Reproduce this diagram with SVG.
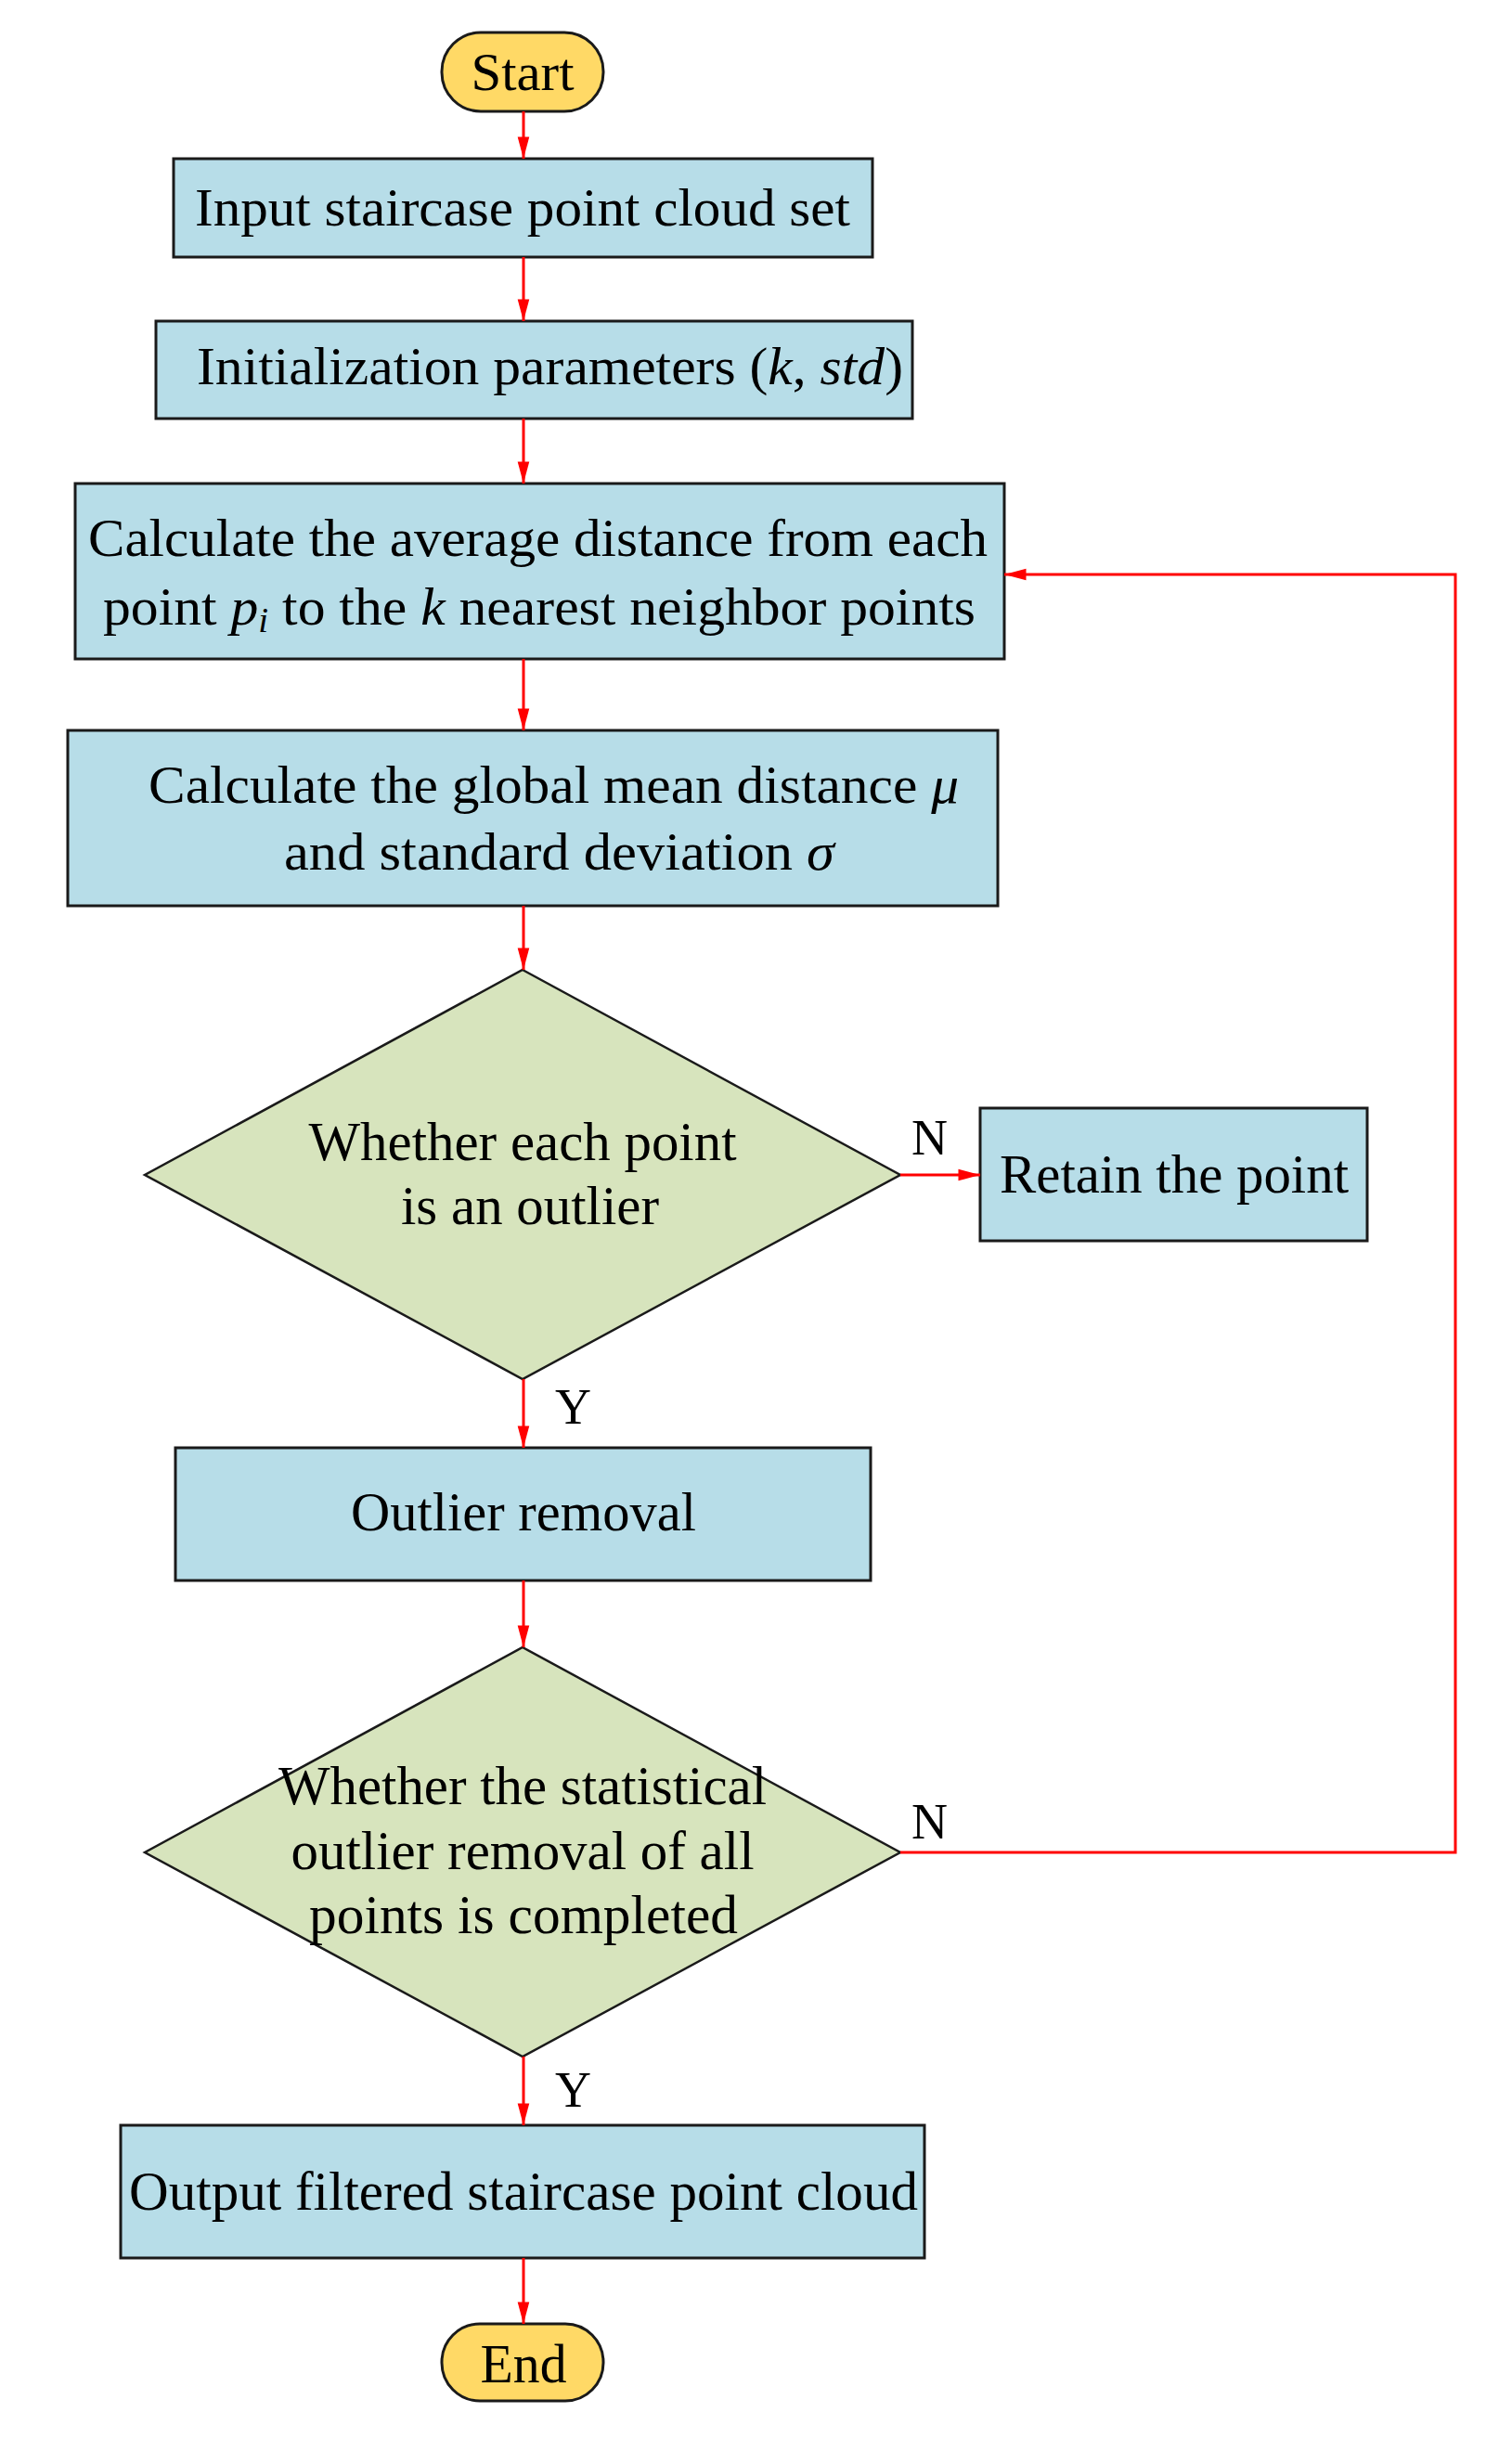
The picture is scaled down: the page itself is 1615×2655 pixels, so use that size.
<svg xmlns="http://www.w3.org/2000/svg" width="1615" height="2655" viewBox="0 0 1615 2655">
<style>
.box{fill:#b7dde8;stroke:#1a1a1a;stroke-width:3}
.dia{fill:#d7e4bd;stroke:#1a1a1a;stroke-width:2.5}
.term{fill:#ffd966;stroke:#1a1a1a;stroke-width:3}
.t{font-family:"Liberation Serif","Times New Roman",serif;fill:#000}
.big{font-size:58px}
.mid{font-size:60px}
.lbl{font-size:54px}
.c{stroke:#ff0000;stroke-width:3;fill:none}
.i{font-style:italic}
</style>
<defs>
<marker id="ah" viewBox="0 0 10 10" refX="10" refY="5" markerWidth="9" markerHeight="9" markerUnits="userSpaceOnUse" orient="auto" style="overflow:visible">
<path d="M0,0 L10,5 L0,10 z" fill="#ff0000" transform="scale(2.6,1.4) translate(-6.2,-1.4)"/>
</marker>
</defs>
<g id="start"><rect class="term" x="476" y="35" width="174" height="85" rx="42"/><text class="t big" x="563" y="97" text-anchor="middle" textLength="111" lengthAdjust="spacingAndGlyphs">Start</text></g>
<g id="input"><rect class="box" x="187" y="171" width="753" height="106"/><text class="t big" x="210" y="243" textLength="706" lengthAdjust="spacingAndGlyphs">Input staircase point cloud set</text></g>
<g id="init"><rect class="box" x="168" y="346" width="815" height="105"/><text class="t big" x="212" y="414" textLength="761" lengthAdjust="spacingAndGlyphs">Initialization parameters (<tspan class="i">k</tspan>, <tspan class="i">std</tspan>)</text></g>
<g id="calc"><rect class="box" x="81" y="521" width="1001" height="189"/>
<text class="t big" x="95" y="599" textLength="969" lengthAdjust="spacingAndGlyphs">Calculate the average distance from each</text>
<text class="t big" x="111" y="673" textLength="940" lengthAdjust="spacingAndGlyphs">point <tspan class="i">p</tspan><tspan class="i" font-size="38" dy="8">i</tspan><tspan dy="-8"> to the </tspan><tspan class="i">k</tspan> nearest neighbor points</text></g>
<g id="global"><rect class="box" x="73" y="787" width="1002" height="189"/>
<text class="t big" x="160" y="865" textLength="873" lengthAdjust="spacingAndGlyphs">Calculate the global mean distance <tspan class="i">μ</tspan></text>
<text class="t big" x="306" y="937" textLength="593" lengthAdjust="spacingAndGlyphs">and standard deviation  <tspan class="i">σ</tspan></text></g>
<g id="d1"><polygon class="dia" points="563,1045 970,1266 563,1486 156,1266"/>
<text class="t mid" x="563" y="1250" text-anchor="middle" textLength="461" lengthAdjust="spacingAndGlyphs">Whether each point</text>
<text class="t mid" x="571" y="1319" text-anchor="middle" textLength="278" lengthAdjust="spacingAndGlyphs">is an outlier</text></g>
<g id="retain"><rect class="box" x="1056" y="1194" width="417" height="143"/><text class="t mid" x="1265" y="1285" text-anchor="middle" textLength="376" lengthAdjust="spacingAndGlyphs">Retain the point</text></g>
<g id="outlier"><rect class="box" x="189" y="1560" width="749" height="143"/><text class="t mid" x="564" y="1649" text-anchor="middle" textLength="372" lengthAdjust="spacingAndGlyphs">Outlier removal</text></g>
<g id="d2"><polygon class="dia" points="563,1775 970,1996 563,2216 156,1996"/>
<text class="t mid" x="563" y="1944" text-anchor="middle" textLength="526" lengthAdjust="spacingAndGlyphs">Whether the statistical</text>
<text class="t mid" x="563" y="2014" text-anchor="middle" textLength="499" lengthAdjust="spacingAndGlyphs">outlier removal of all</text>
<text class="t mid" x="564" y="2083" text-anchor="middle" textLength="462" lengthAdjust="spacingAndGlyphs">points is completed</text></g>
<g id="output"><rect class="box" x="130" y="2290" width="866" height="143"/><text class="t mid" x="564" y="2381" text-anchor="middle" textLength="850" lengthAdjust="spacingAndGlyphs">Output filtered staircase point cloud</text></g>
<g id="end"><rect class="term" x="476" y="2504" width="174" height="83" rx="41"/><text class="t mid" x="564" y="2567" text-anchor="middle" textLength="93" lengthAdjust="spacingAndGlyphs">End</text></g>
<g id="connectors">
<line class="c" x1="564" y1="120" x2="564" y2="171" marker-end="url(#ah)"/>
<line class="c" x1="564" y1="277" x2="564" y2="346" marker-end="url(#ah)"/>
<line class="c" x1="564" y1="451" x2="564" y2="521" marker-end="url(#ah)"/>
<line class="c" x1="564" y1="710" x2="564" y2="787" marker-end="url(#ah)"/>
<line class="c" x1="564" y1="976" x2="564" y2="1045" marker-end="url(#ah)"/>
<line class="c" x1="970" y1="1266" x2="1056" y2="1266" marker-end="url(#ah)"/>
<line class="c" x1="564" y1="1486" x2="564" y2="1560" marker-end="url(#ah)"/>
<line class="c" x1="564" y1="1703" x2="564" y2="1775" marker-end="url(#ah)"/>
<polyline class="c" points="970,1996 1568,1996 1568,619 1082,619" marker-end="url(#ah)"/>
<line class="c" x1="564" y1="2216" x2="564" y2="2290" marker-end="url(#ah)"/>
<line class="c" x1="564" y1="2433" x2="564" y2="2504" marker-end="url(#ah)"/>
<text class="t lbl" x="982" y="1244">N</text>
<text class="t lbl" x="598" y="1534">Y</text>
<text class="t lbl" x="982" y="1981">N</text>
<text class="t lbl" x="598" y="2270">Y</text>
</g>
</svg>
